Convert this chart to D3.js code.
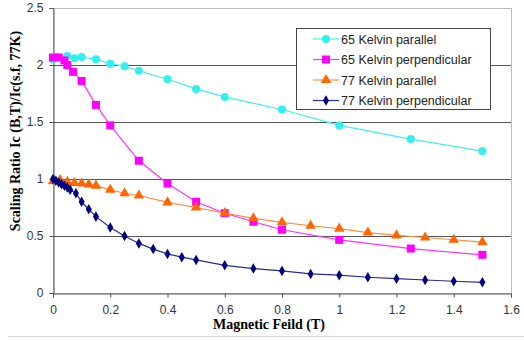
<!DOCTYPE html>
<html>
<head>
<meta charset="utf-8">
<script src="https://cdn.jsdelivr.net/npm/d3@7"></script>
<style>
  body { margin: 0; background: #fff; }
  svg { display: block; }
</style>
</head>
<body>
<div id="chart"></div>
<script>
// series data
var seriesNames = ["65 Kelvin parallel", "65 Kelvin perpendicular", "77 Kelvin parallel", "77 Kelvin perpendicular"];

var x65par = [0, 0.05, 0.075, 0.1, 0.15, 0.2, 0.25, 0.3, 0.4, 0.5, 0.6, 0.8, 1.0, 1.25, 1.5];
var y65par = [2.05, 2.08, 2.06, 2.07, 2.05, 2.01, 1.99, 1.95, 1.875, 1.79, 1.72, 1.61, 1.47, 1.35, 1.245];

var x65perp = [0, 0.02, 0.04, 0.05, 0.07, 0.1, 0.15, 0.2, 0.3, 0.4, 0.5, 0.6, 0.7, 0.8, 1.0, 1.25, 1.5];
var y65perp = [2.066, 2.066, 2.04, 2.0, 1.94, 1.86, 1.65, 1.47, 1.16, 0.96, 0.80, 0.70, 0.625, 0.555, 0.466, 0.39, 0.335];

var x77par = [0, 0.025, 0.05, 0.075, 0.1, 0.125, 0.15, 0.2, 0.25, 0.3, 0.4, 0.5, 0.6, 0.7, 0.8, 0.9, 1.0, 1.1, 1.2, 1.3, 1.4, 1.5];
var y77par = [0.98, 0.99, 0.975, 0.965, 0.96, 0.952, 0.942, 0.905, 0.875, 0.855, 0.795, 0.75, 0.70, 0.655, 0.62, 0.59, 0.565, 0.53, 0.505, 0.487, 0.467, 0.446];

var x77perp = [0, 0.01, 0.02, 0.03, 0.04, 0.05, 0.06, 0.08, 0.1, 0.125, 0.15, 0.2, 0.25, 0.3, 0.35, 0.4, 0.45, 0.5, 0.6, 0.7, 0.8, 0.9, 1.0, 1.1, 1.2, 1.3, 1.4, 1.5];
var y77perp = [1.0, 0.985, 0.97, 0.955, 0.94, 0.925, 0.905, 0.875, 0.80, 0.735, 0.67, 0.575, 0.50, 0.435, 0.385, 0.343, 0.314, 0.29, 0.243, 0.214, 0.194, 0.167, 0.156, 0.138, 0.126, 0.114, 0.103, 0.094];

var xTicks = [0, 0.2, 0.4, 0.6, 0.8, 1, 1.2, 1.4, 1.6];
var yTicks = [0, 0.5, 1, 1.5, 2, 2.5];

var width = 524, height = 340;
var plotLeft = 53, plotRight = 511, plotTop = 8, plotBottom = 293;

var svg = d3.select("#chart").append("svg")
  .attr("width", width)
  .attr("height", height);

var x = d3.scaleLinear().domain([0, 1.6]).range([plotLeft, plotRight]);
var y = d3.scaleLinear().domain([0, 2.5]).range([plotBottom, plotTop]);

// plot area border (light)
svg.append("rect")
  .attr("x", plotLeft + 0.5).attr("y", plotTop + 0.5)
  .attr("width", plotRight - plotLeft).attr("height", plotBottom - plotTop)
  .attr("fill", "none").attr("stroke", "#bdbdbd");

// horizontal gridlines
svg.append("g").selectAll("line")
  .data(yTicks.filter(d => d > 0 && d < 2.5))
  .enter().append("line")
  .attr("x1", plotLeft).attr("x2", plotRight)
  .attr("y1", d => Math.round(y(d)) + 0.5).attr("y2", d => Math.round(y(d)) + 0.5)
  .attr("stroke", "#555").attr("stroke-width", 1);

// axes
var xAxis = svg.append("g")
  .attr("transform", "translate(0," + (plotBottom + 0.5) + ")")
  .call(d3.axisBottom(x).tickValues(xTicks).tickSize(4).tickPadding(8).tickFormat(d3.format("")));
var yAxis = svg.append("g")
  .attr("transform", "translate(" + (plotLeft + 0.5) + ",0)")
  .call(d3.axisLeft(y).tickValues(yTicks).tickSize(4).tickPadding(6).tickFormat(d3.format("")));

[xAxis, yAxis].forEach(function (a) {
  a.select(".domain").attr("stroke", "#555");
  a.selectAll(".tick line").attr("stroke", "#555");
  a.selectAll("text")
    .attr("fill", "#333")
    .style("font-family", "'Liberation Sans', Arial, sans-serif")
    .style("font-size", "12px");
});

// axis titles
svg.append("text")
  .attr("x", 269).attr("y", 329)
  .attr("text-anchor", "middle")
  .style("font-family", "'Liberation Serif', 'Times New Roman', serif")
  .style("font-weight", "bold").style("font-size", "14px")
  .text("Magnetic Feild (T)");

svg.append("text")
  .attr("transform", "translate(20,131) rotate(-90)")
  .attr("text-anchor", "middle")
  .style("font-family", "'Liberation Serif', 'Times New Roman', serif")
  .style("font-weight", "bold").style("font-size", "14px")
  .text("Scaling Ratio Ic (B,T)/Ic(s.f, 77K)");

// bottom chart-area line
svg.append("line")
  .attr("x1", 8).attr("x2", width).attr("y1", 336.5).attr("y2", 336.5)
  .attr("stroke", "#d8d8d8");

var series = [
  { name: seriesNames[0], xs: x65par, ys: y65par, color: "#33f0f0", line: "#40f0f0", symbol: d3.symbolCircle, size: 50 },
  { name: seriesNames[1], xs: x65perp, ys: y65perp, color: "#ff00ff", line: "#ff33ff", symbol: d3.symbolSquare, size: 64 },
  { name: seriesNames[2], xs: x77par, ys: y77par, color: "#ff6600", line: "#ff8c40", symbol: d3.symbolTriangle, size: 48 },
  { name: seriesNames[3], xs: x77perp, ys: y77perp, color: "#000080", line: "#2a2a90", symbol: d3.symbolDiamond, size: 32 }
];

var line = d3.line().x(d => x(d[0])).y(d => y(d[1]));

series.forEach(function (s) {
  var pts = s.xs.map((v, i) => [v, s.ys[i]]);
  var g = svg.append("g");
  g.append("path")
    .attr("d", line(pts))
    .attr("fill", "none")
    .attr("stroke", s.line)
    .attr("stroke-width", 1.2);
  g.selectAll("path.pt")
    .data(pts)
    .enter().append("path")
    .attr("class", "pt")
    .attr("d", d3.symbol().type(s.symbol).size(s.size))
    .attr("transform", d => "translate(" + x(d[0]) + "," + y(d[1]) + ")")
    .attr("fill", s.color);
});

// legend
var legend = svg.append("g");
legend.append("rect")
  .attr("x", 296.5).attr("y", 28.5)
  .attr("width", 194).attr("height", 81)
  .attr("fill", "#fff").attr("stroke", "#444");

series.forEach(function (s, i) {
  var ly = 39 + i * 20.5;
  legend.append("line")
    .attr("x1", 313).attr("x2", 339)
    .attr("y1", ly).attr("y2", ly)
    .attr("stroke", s.line).attr("stroke-width", 1.2);
  legend.append("path")
    .attr("d", d3.symbol().type(s.symbol).size(s.size))
    .attr("transform", "translate(326," + ly + ")")
    .attr("fill", s.color);
  legend.append("text")
    .attr("x", 341).attr("y", ly + 4.5)
    .attr("fill", "#222")
    .style("font-family", "'Liberation Sans', Arial, sans-serif")
    .style("font-size", "12.5px")
    .text(s.name);
});
</script>
</body>
</html>
